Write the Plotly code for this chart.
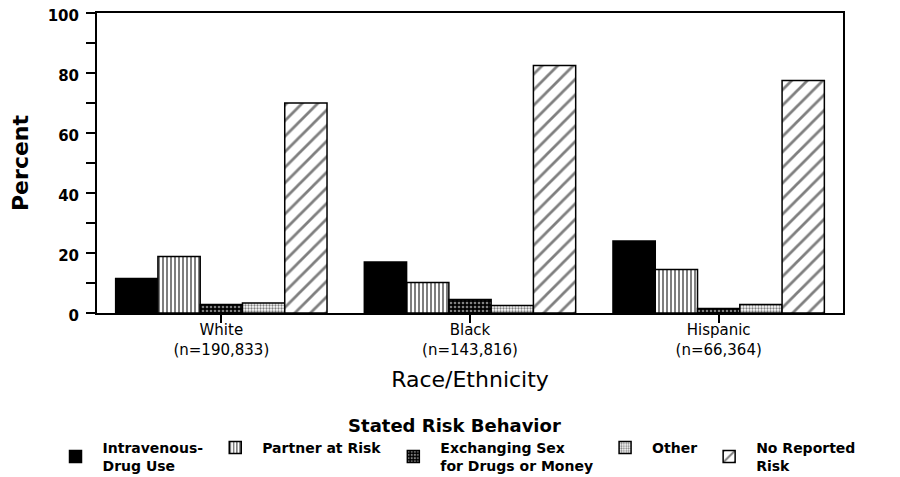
import plotly.graph_objects as go

categories = ["White<br>(n=190,833)", "Black<br>(n=143,816)", "Hispanic<br>(n=66,364)"]
series_names = ["Intravenous-<br>Drug Use", "Partner at Risk", "Exchanging Sex<br>for Drugs or Money",
                "Other", "No Reported<br>Risk"]
idu = [11.5, 17.0, 24.0]
partner = [18.8, 10.2, 14.5]
exchange = [2.8, 4.5, 1.5]
other = [3.3, 2.5, 2.8]
no_reported = [70.0, 82.5, 77.5]
values = [idu, partner, exchange, other, no_reported]

patterns = [
    dict(shape="", bgcolor="black"),
    dict(shape="|", fgcolor="black", bgcolor="white", size=4, solidity=0.5),
    dict(shape=".", fgcolor="white", bgcolor="black", size=4, solidity=0.35),
    dict(shape=".", fgcolor="black", bgcolor="white", size=3, solidity=0.45),
    dict(shape="/", fgcolor="black", bgcolor="white", size=11, solidity=0.25),
]
colors = ["black", "white", "black", "white", "white"]

FONT = "DejaVu Sans"
fig = go.Figure()
for name, vals, pat, col in zip(series_names, values, patterns, colors):
    fig.add_trace(go.Bar(
        x=categories, y=vals, name=name,
        marker=dict(color=col, pattern=pat, line=dict(color="black", width=1.5)),
    ))

fig.update_layout(
    width=892, height=469,
    barmode="group", bargap=0.15, bargroupgap=0,
    plot_bgcolor="white", paper_bgcolor="white",
    margin=dict(l=89, r=57, t=5, b=164, autoexpand=False),
    font=dict(family=FONT, color="black"),
    legend=dict(
        orientation="h", xref="paper", yref="paper",
        x=-0.065, xanchor="left", y=-0.318, yanchor="top",
        font=dict(size=14, weight="bold"),
        title=dict(text="Stated Risk Behavior", side="top center",
                   font=dict(size=18, weight="bold")),
        itemwidth=44, traceorder="normal", tracegroupgap=0,
    ),
    showlegend=True,
)
fig.update_xaxes(
    showline=True, linecolor="black", linewidth=2, mirror=True,
    ticks="outside", ticklen=8, tickwidth=2, tickcolor="black",
    tickfont=dict(size=15), ticklabelstandoff=-6,
    title=dict(text="Race/Ethnicity", font=dict(size=22), standoff=14),
)
fig.update_yaxes(
    range=[0, 100], tickvals=[0, 20, 40, 60, 80, 100],
    showline=True, linecolor="black", linewidth=2, mirror=True,
    showgrid=False, zeroline=False, ticklabeloverflow="allow",
    ticks="outside", ticklen=9, tickwidth=2, tickcolor="black",
    minor=dict(ticks="outside", dtick=10, ticklen=9, tickwidth=2, tickcolor="black", showgrid=False),
    tickfont=dict(size=15, weight="bold"), ticklabelstandoff=4, ticklabelshift=3,
    title=dict(text="Percent", font=dict(size=22, weight="bold"), standoff=20),
)

fig.write_html("out.html")
